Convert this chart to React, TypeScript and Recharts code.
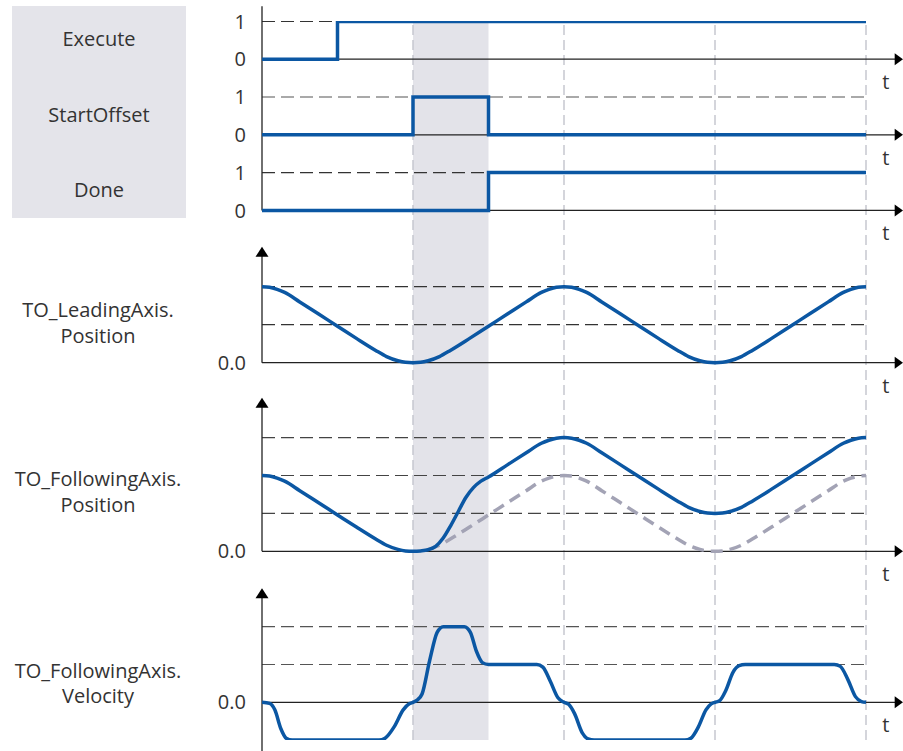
import React from 'react';
import {
  ComposedChart,
  Line,
  XAxis,
  YAxis,
  ReferenceLine,
  ReferenceArea,
  ReferenceDot,
} from 'recharts';

// ---------------- data ----------------
const executeT = [0, 1, 8];
const executeV = [0, 1, 1];
const startOffsetT = [0, 2, 3, 8];
const startOffsetV = [0, 1, 0, 0];
const doneT = [0, 3, 8];
const doneV = [0, 1, 1];

const leadT = [
  0, 0.1, 0.2, 0.3, 0.5, 0.75, 1, 1.25, 1.5, 1.65, 1.8, 1.9, 2,
  2.1, 2.2, 2.35, 2.5, 2.75, 3, 3.25, 3.5, 3.7, 3.8, 3.9, 4,
  4.1, 4.2, 4.3, 4.5, 4.75, 5, 5.25, 5.5, 5.65, 5.8, 5.9, 6,
  6.1, 6.2, 6.35, 6.5, 6.75, 7, 7.25, 7.5, 7.7, 7.8, 7.9, 8,
];
const leadV = [
  2, 1.985, 1.93, 1.85, 1.6, 1.28, 0.96, 0.64, 0.33, 0.16, 0.05, 0.01, 0,
  0.01, 0.05, 0.16, 0.33, 0.64, 0.96, 1.28, 1.6, 1.85, 1.93, 1.985, 2,
  1.985, 1.93, 1.85, 1.6, 1.28, 0.96, 0.64, 0.33, 0.16, 0.05, 0.01, 0,
  0.01, 0.05, 0.16, 0.33, 0.64, 0.96, 1.28, 1.6, 1.85, 1.93, 1.985, 2,
];

const followT = [
  0, 0.1, 0.2, 0.3, 0.5, 0.75, 1, 1.25, 1.5, 1.65, 1.8, 1.9, 2,
  2.1, 2.2, 2.3, 2.4, 2.5, 2.6, 2.7, 2.8, 2.9, 3, 3.25, 3.5, 3.7, 3.8, 3.9, 4,
  4.1, 4.2, 4.3, 4.5, 4.75, 5, 5.25, 5.5, 5.65, 5.8, 5.9, 6,
  6.1, 6.2, 6.35, 6.5, 6.75, 7, 7.25, 7.5, 7.7, 7.8, 7.9, 8,
];
const followV = [
  2, 1.985, 1.93, 1.85, 1.6, 1.28, 0.96, 0.64, 0.33, 0.16, 0.05, 0.01, 0,
  0.01, 0.04, 0.13, 0.35, 0.68, 1.05, 1.42, 1.68, 1.85, 1.96, 2.28, 2.6, 2.85, 2.93, 2.985, 3,
  2.985, 2.93, 2.85, 2.6, 2.28, 1.96, 1.64, 1.33, 1.16, 1.05, 1.01, 1,
  1.01, 1.05, 1.16, 1.33, 1.64, 1.96, 2.28, 2.6, 2.85, 2.93, 2.985, 3,
];

// leading position copied onto the following-axis panel (grey dashed)
const leadCopyT = [2.2, 2.35, 2.5, 2.75, 3, 3.25, 3.5, 3.7, 3.8, 3.9, 4,
  4.1, 4.2, 4.3, 4.5, 4.75, 5, 5.25, 5.5, 5.65, 5.8, 5.9, 6,
  6.1, 6.2, 6.35, 6.5, 6.75, 7, 7.25, 7.5, 7.7, 7.8, 7.9, 8];
const leadCopyV = [0.05, 0.16, 0.33, 0.64, 0.96, 1.28, 1.6, 1.85, 1.93, 1.985, 2,
  1.985, 1.93, 1.85, 1.6, 1.28, 0.96, 0.64, 0.33, 0.16, 0.05, 0.01, 0,
  0.01, 0.05, 0.16, 0.33, 0.64, 0.96, 1.28, 1.6, 1.85, 1.93, 1.985, 2];

const velT = [
  0, 0.1, 0.17, 0.25, 0.32, 0.4, 1.55, 1.63, 1.75, 1.87, 1.95, 2, 2.05, 2.12, 2.22, 2.32, 2.4,
  2.68, 2.76, 2.84, 2.92, 3, 3.64, 3.72, 3.82, 3.92, 4, 4.06, 4.14, 4.24, 4.32, 4.4,
  5.6, 5.68, 5.78, 5.88, 5.95, 6, 6.06, 6.14, 6.24, 6.32, 6.4, 7.58, 7.66, 7.76, 7.86, 7.94, 8,
];
const velV = [
  0, -0.03, -0.2, -0.7, -0.95, -1, -1, -0.95, -0.65, -0.2, -0.04, 0, 0.05, 0.22, 1.1, 1.85, 2,
  2, 1.85, 1.35, 1.05, 1, 1, 0.93, 0.55, 0.12, 0, -0.05, -0.3, -0.8, -0.97, -1,
  -1, -0.95, -0.65, -0.2, -0.04, 0, 0.04, 0.3, 0.8, 0.97, 1, 1, 0.95, 0.6, 0.15, 0.02, 0,
];

const digitalTicks = [0, 1];
const analogTicks = [0];
const markerTimes = [2, 4, 6, 8];
const offsetWindow = [2, 3];
const digitalLevels = [1];
const leadLevels = [1, 2];
const followLevels = [1, 2, 3];
const velLevels = [2, 1, -1];

const signalLabels = ['Execute', 'StartOffset', 'Done'];
const analogLabels = [
  ['TO_LeadingAxis.', 'Position'],
  ['TO_FollowingAxis.', 'Position'],
  ['TO_FollowingAxis.', 'Velocity'],
];

const pts = (ts: number[], vs: number[]) => ts.map((t, i) => ({ t, v: vs[i] }));

// ---------------- layout ----------------
const W = 903;
const H = 751;
const PLOT_TOP = 21;
const PLOT_BOTTOM = 740;
const PLOT_LEFT = 262;
const AXIS_W = 0.01;
const PX_PER_T = 75.5;
const T_MAX = 8.4;
const MARGIN_RIGHT = W - PLOT_LEFT - T_MAX * PX_PER_T;

const FONT = "'Open Sans', 'Noto Sans', sans-serif";
const BLUE = '#0b57a3';
const GREY_DASH = '#a3a3b5';
const TEXT = '#333333';
const AXIS = '#222222';

const dom = (base: number, unit: number): [number, number] => [
  -(PLOT_BOTTOM - base) / unit,
  (base - PLOT_TOP) / unit,
];

const panels = {
  exe: { base: 59.2, unit: 37.7 },
  so: { base: 134.8, unit: 37.8 },
  done: { base: 210.4, unit: 37.8 },
  lead: { base: 362.7, unit: 38 },
  follow: { base: 551.3, unit: 37.9 },
  vel: { base: 702.3, unit: 37.8 },
};

const RightArrow = (props: any) => {
  const { cx, cy } = props;
  return (
    <g>
      <polygon points={`${cx - 1.5},${cy - 6} ${cx + 6.8},${cy} ${cx - 1.5},${cy + 6}`} fill="#000" />
      <text x={cx - 10.5} y={cy + 30} fontSize={20} fill={TEXT} textAnchor="middle" fontFamily={FONT}>
        t
      </text>
    </g>
  );
};

const UpArrow = (props: any) => {
  const { cx, cy } = props;
  return <polygon points={`${cx},${cy} ${cx - 6.5},${cy + 10} ${cx + 6.5},${cy + 10}`} fill="#000" />;
};

const tickStyle = { fill: TEXT, fontSize: 20, fontFamily: FONT };

const axisProps = {
  width: AXIS_W,
  axisLine: false,
  tickLine: false,
  tickSize: 0,
  tickMargin: 16,
  tick: tickStyle,
  allowDataOverflow: true,
  interval: 0 as const,
  type: 'number' as const,
};

export default function App() {
  const fmt = (v: number) => v.toFixed(1);
  const hLevels = (id: string, levels: number[], color = '#444') =>
    levels.map((lv) => (
      <ReferenceLine
        key={`${id}-${lv}`}
        yAxisId={id}
        segment={[{ x: 0, y: lv }, { x: 8, y: lv }]}
        stroke={color}
        strokeWidth={1.2}
        strokeDasharray="13 6"
      />
    ));
  const timeAxis = (id: string) => [
    <ReferenceLine key={`${id}-ax`} yAxisId={id} y={0} stroke={AXIS} strokeWidth={1.3} />,
    <ReferenceDot key={`${id}-arr`} yAxisId={id} x={T_MAX} y={0} r={0} shape={RightArrow} ifOverflow="visible" />,
  ];

  return (
    <div style={{ position: 'absolute', left: 0, top: 0, width: W, height: H, background: '#fff' }}>
      <svg width={W} height={H} style={{ position: 'absolute', left: 0, top: 0 }}>
        <rect x={12} y={6} width={174} height={212} fill="#e4e4ea" />
        {signalLabels.map((s, i) => (
          <text key={s} x={99} y={[46, 121.5, 196.5][i]} textAnchor="middle" fontSize={20} fill={TEXT} fontFamily={FONT}>
            {s}
          </text>
        ))}
        {analogLabels.map((pair, i) => (
          <text key={i} textAnchor="middle" fontSize={20} fill={TEXT} fontFamily={FONT}>
            <tspan x={98} y={[316.7, 485.7, 678.3][i]}>{pair[0]}</tspan>
            <tspan x={98} y={[343, 512.3, 702.7][i]}>{pair[1]}</tspan>
          </text>
        ))}
      </svg>
      <div style={{ position: 'absolute', left: 0, top: 0 }}>
        <ComposedChart
          width={W}
          height={H}
          margin={{ top: PLOT_TOP, bottom: H - PLOT_BOTTOM, left: PLOT_LEFT - 6 * AXIS_W, right: MARGIN_RIGHT }}
        >
          <XAxis type="number" dataKey="t" domain={[0, T_MAX]} hide allowDataOverflow />
          <YAxis yAxisId="exe" domain={dom(panels.exe.base, panels.exe.unit)} ticks={digitalTicks} {...axisProps} />
          <YAxis yAxisId="so" domain={dom(panels.so.base, panels.so.unit)} ticks={digitalTicks} {...axisProps} />
          <YAxis yAxisId="done" domain={dom(panels.done.base, panels.done.unit)} ticks={digitalTicks} {...axisProps} />
          <YAxis yAxisId="lead" domain={dom(panels.lead.base, panels.lead.unit)} ticks={analogTicks} tickFormatter={fmt} {...axisProps} />
          <YAxis yAxisId="follow" domain={dom(panels.follow.base, panels.follow.unit)} ticks={analogTicks} tickFormatter={fmt} {...axisProps} />
          <YAxis yAxisId="vel" domain={dom(panels.vel.base, panels.vel.unit)} ticks={analogTicks} tickFormatter={fmt} {...axisProps} />

          <ReferenceArea yAxisId="exe" x1={offsetWindow[0]} x2={offsetWindow[1]} fill="#e3e3e9" fillOpacity={1} stroke="none" />
          {markerTimes.map((t) => (
            <ReferenceLine key={`m${t}`} yAxisId="exe" x={t} stroke="#c6c8d0" strokeWidth={1.5} strokeDasharray="10 5" />
          ))}

          {hLevels('exe', digitalLevels, '#333')}
          {hLevels('so', digitalLevels, '#555')}
          {hLevels('done', digitalLevels, '#333')}
          {hLevels('lead', leadLevels, '#333')}
          {hLevels('follow', followLevels, '#444')}
          {hLevels('vel', velLevels, '#555')}

          {/* vertical axes */}
          <ReferenceLine yAxisId="done" segment={[{ x: 0, y: 0 }, { x: 0, y: 5.4 }]} stroke={AXIS} strokeWidth={1.3} ifOverflow="visible" />
          <ReferenceLine yAxisId="lead" segment={[{ x: 0, y: 0 }, { x: 0, y: 2.85 }]} stroke={AXIS} strokeWidth={1.3} />
          <ReferenceDot yAxisId="lead" x={0} y={3.05} r={0} shape={UpArrow} ifOverflow="visible" />
          <ReferenceLine yAxisId="follow" segment={[{ x: 0, y: 0 }, { x: 0, y: 3.85 }]} stroke={AXIS} strokeWidth={1.3} />
          <ReferenceDot yAxisId="follow" x={0} y={4.05} r={0} shape={UpArrow} ifOverflow="visible" />
          <ReferenceLine yAxisId="vel" segment={[{ x: 0, y: -1.3 }, { x: 0, y: 2.8 }]} stroke={AXIS} strokeWidth={1.3} ifOverflow="visible" />
          <ReferenceDot yAxisId="vel" x={0} y={3.02} r={0} shape={UpArrow} ifOverflow="visible" />

          {timeAxis('exe')}
          {timeAxis('so')}
          {timeAxis('done')}
          {timeAxis('lead')}
          {timeAxis('follow')}
          {timeAxis('vel')}

          <Line yAxisId="exe" data={pts(executeT, executeV)} dataKey="v" type="stepAfter" stroke={BLUE} strokeWidth={3.5} dot={false} isAnimationActive={false} />
          <Line yAxisId="so" data={pts(startOffsetT, startOffsetV)} dataKey="v" type="stepAfter" stroke={BLUE} strokeWidth={3.5} dot={false} isAnimationActive={false} />
          <Line yAxisId="done" data={pts(doneT, doneV)} dataKey="v" type="stepAfter" stroke={BLUE} strokeWidth={3.5} dot={false} isAnimationActive={false} />
          <Line yAxisId="lead" data={pts(leadT, leadV)} dataKey="v" type="monotone" stroke={BLUE} strokeWidth={3.5} dot={false} isAnimationActive={false} />
          <Line yAxisId="follow" data={pts(leadCopyT, leadCopyV)} dataKey="v" type="monotone" stroke={GREY_DASH} strokeWidth={3.5} strokeDasharray="12 7" dot={false} isAnimationActive={false} />
          <Line yAxisId="follow" data={pts(followT, followV)} dataKey="v" type="monotone" stroke={BLUE} strokeWidth={3.5} dot={false} isAnimationActive={false} />
          <Line yAxisId="vel" data={pts(velT, velV)} dataKey="v" type="monotone" stroke={BLUE} strokeWidth={3.5} dot={false} isAnimationActive={false} />
        </ComposedChart>
      </div>
    </div>
  );
}
